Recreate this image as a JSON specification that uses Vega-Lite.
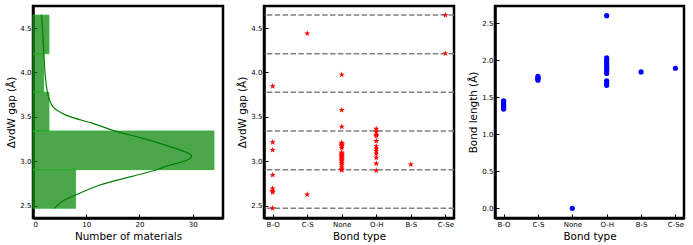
{
  "$schema": "https://vega.github.io/schema/vega-lite/v6.json",
  "background": "white",
  "padding": {"left": 5, "top": 4, "right": 5, "bottom": 3},
  "spacing": 41,
  "bounds": "flush",
  "config": {
    "font": "DejaVu Sans",
    "view": {"stroke": "black", "strokeWidth": 2.5},
    "axis": {
      "grid": false,
      "labelFont": "DejaVu Sans",
      "titleFont": "DejaVu Sans",
      "labelFontSize": 7,
      "titleFontSize": 10.4,
      "titleFontWeight": "normal",
      "labelColor": "black",
      "titleColor": "black",
      "tickColor": "black",
      "tickSize": -4,
      "tickWidth": 1,
      "labelPadding": 6,
      "domainColor": "black",
      "domainWidth": 2.5,
      "zindex": 1
    }
  },
  "datasets": {
    "hist": [
      {"lo": 2.471, "hi": 2.906, "count": 8},
      {"lo": 2.906, "hi": 3.341, "count": 34},
      {"lo": 3.341, "hi": 3.776, "count": 3},
      {"lo": 3.776, "hi": 4.211, "count": 2},
      {"lo": 4.211, "hi": 4.646, "count": 3}
    ],
    "curve": [
      {"gap": 4.65, "count": 1.6},
      {"gap": 4.38, "count": 1.9},
      {"gap": 4.0, "count": 2.25},
      {"gap": 3.78, "count": 2.7},
      {"gap": 3.69, "count": 3.1},
      {"gap": 3.61, "count": 3.8},
      {"gap": 3.52, "count": 6.2},
      {"gap": 3.43, "count": 11.1},
      {"gap": 3.34, "count": 15.5},
      {"gap": 3.26, "count": 20.5},
      {"gap": 3.16, "count": 26.0},
      {"gap": 3.09, "count": 29.2},
      {"gap": 3.06, "count": 29.8},
      {"gap": 3.02, "count": 29.2},
      {"gap": 2.94, "count": 24.8},
      {"gap": 2.91, "count": 23.6},
      {"gap": 2.83, "count": 18.6},
      {"gap": 2.73, "count": 12.4},
      {"gap": 2.62, "count": 8.0},
      {"gap": 2.55, "count": 5.5},
      {"gap": 2.47, "count": 4.0}
    ],
    "edges": [
      {"edge": 2.471}, {"edge": 2.906}, {"edge": 3.341}, {"edge": 3.776}, {"edge": 4.211}, {"edge": 4.646}
    ],
    "gaps": [
      {"bond": "B-O", "gap": 3.844}, {"bond": "B-O", "gap": 3.214}, {"bond": "B-O", "gap": 3.128}, {"bond": "B-O", "gap": 2.846},
      {"bond": "B-O", "gap": 2.693}, {"bond": "B-O", "gap": 2.665}, {"bond": "B-O", "gap": 2.651}, {"bond": "B-O", "gap": 2.471},
      {"bond": "C-S", "gap": 4.44}, {"bond": "C-S", "gap": 2.625},
      {"bond": "None", "gap": 3.975}, {"bond": "None", "gap": 3.578}, {"bond": "None", "gap": 3.39}, {"bond": "None", "gap": 3.21},
      {"bond": "None", "gap": 3.2}, {"bond": "None", "gap": 3.19}, {"bond": "None", "gap": 3.18}, {"bond": "None", "gap": 3.17},
      {"bond": "None", "gap": 3.15}, {"bond": "None", "gap": 3.1}, {"bond": "None", "gap": 3.09}, {"bond": "None", "gap": 3.08},
      {"bond": "None", "gap": 3.07}, {"bond": "None", "gap": 3.06}, {"bond": "None", "gap": 3.05}, {"bond": "None", "gap": 3.04},
      {"bond": "None", "gap": 3.03}, {"bond": "None", "gap": 3.02}, {"bond": "None", "gap": 3.01}, {"bond": "None", "gap": 3.0},
      {"bond": "None", "gap": 2.98}, {"bond": "None", "gap": 2.96}, {"bond": "None", "gap": 2.93}, {"bond": "None", "gap": 2.91},
      {"bond": "None", "gap": 2.9},
      {"bond": "O-H", "gap": 3.365}, {"bond": "O-H", "gap": 3.335}, {"bond": "O-H", "gap": 3.298}, {"bond": "O-H", "gap": 3.284},
      {"bond": "O-H", "gap": 3.228}, {"bond": "O-H", "gap": 3.17}, {"bond": "O-H", "gap": 3.14}, {"bond": "O-H", "gap": 3.116},
      {"bond": "O-H", "gap": 3.085}, {"bond": "O-H", "gap": 3.04}, {"bond": "O-H", "gap": 2.975}, {"bond": "O-H", "gap": 2.897},
      {"bond": "B-S", "gap": 2.964},
      {"bond": "C-Se", "gap": 4.646}, {"bond": "C-Se", "gap": 4.215}
    ],
    "lengths": [
      {"bond": "B-O", "length": 1.45}, {"bond": "B-O", "length": 1.44}, {"bond": "B-O", "length": 1.42}, {"bond": "B-O", "length": 1.4},
      {"bond": "B-O", "length": 1.38}, {"bond": "B-O", "length": 1.37}, {"bond": "B-O", "length": 1.35}, {"bond": "B-O", "length": 1.34},
      {"bond": "C-S", "length": 1.78}, {"bond": "C-S", "length": 1.76}, {"bond": "C-S", "length": 1.75}, {"bond": "C-S", "length": 1.73},
      {"bond": "None", "length": 0.0},
      {"bond": "O-H", "length": 2.6}, {"bond": "O-H", "length": 2.03}, {"bond": "O-H", "length": 2.0}, {"bond": "O-H", "length": 1.97},
      {"bond": "O-H", "length": 1.94}, {"bond": "O-H", "length": 1.91}, {"bond": "O-H", "length": 1.89}, {"bond": "O-H", "length": 1.86},
      {"bond": "O-H", "length": 1.82}, {"bond": "O-H", "length": 1.72}, {"bond": "O-H", "length": 1.69}, {"bond": "O-H", "length": 1.66},
      {"bond": "B-S", "length": 1.84},
      {"bond": "C-Se", "length": 1.89}
    ]
  },
  "hconcat": [
    {
      "width": 190,
      "height": 212,
      "layer": [
        {
          "data": {"name": "hist"},
          "mark": {"type": "rect", "fill": "green", "fillOpacity": 0.7, "stroke": "#2db02d", "strokeOpacity": 0.8, "strokeWidth": 1},
          "encoding": {
            "x": {"field": "count", "type": "quantitative",
                  "scale": {"domain": [0, 35.7], "nice": false, "zero": false},
                  "axis": {"title": "Number of materials", "values": [0, 5, 10, 15, 20, 25, 30, 35], "format": "d", "titlePadding": 4}},
            "x2": {"datum": 0},
            "y": {"field": "lo", "type": "quantitative",
                  "scale": {"domain": [2.3615, 4.7485], "nice": false, "zero": false},
                  "axis": {"title": "ΔvdW gap (Å)", "values": [2.5, 3.0, 3.5, 4.0, 4.5], "format": ".1f", "titlePadding": 3}},
            "y2": {"field": "hi"}
          }
        },
        {
          "data": {"name": "curve"},
          "mark": {"type": "line", "color": "green", "strokeWidth": 1.2, "interpolate": "catmull-rom", "clip": true},
          "encoding": {
            "x": {"field": "count", "type": "quantitative"},
            "y": {"field": "gap", "type": "quantitative"},
            "order": {"field": "gap"}
          }
        }
      ]
    },
    {
      "width": 190,
      "height": 212,
      "layer": [
        {
          "data": {"name": "edges"},
          "mark": {"type": "rule", "color": "gray", "strokeWidth": 1.5, "strokeDash": [5.5, 2.4]},
          "encoding": {
            "y": {"field": "edge", "type": "quantitative",
                  "scale": {"domain": [2.3615, 4.7485], "nice": false, "zero": false},
                  "axis": {"title": "ΔvdW gap (Å)", "values": [2.5, 3.0, 3.5, 4.0, 4.5], "format": ".1f", "titlePadding": 3}}
          }
        },
        {
          "data": {"name": "gaps"},
          "mark": {"type": "point", "shape": "M0,-1L0.2245,-0.309L0.9511,-0.309L0.3633,0.118L0.5878,0.809L0,0.382L-0.5878,0.809L-0.3633,0.118L-0.9511,-0.309L-0.2245,-0.309Z", "filled": true, "color": "red", "opacity": 1, "size": 42},
          "encoding": {
            "x": {"field": "bond", "type": "nominal",
                  "sort": ["B-O", "C-S", "None", "O-H", "B-S", "C-Se"],
                  "scale": {"type": "point", "padding": 0.25},
                  "axis": {"title": "Bond type", "labelAngle": 0, "titlePadding": 4}},
            "y": {"field": "gap", "type": "quantitative"}
          }
        }
      ]
    },
    {
      "width": 189,
      "height": 212,
      "data": {"name": "lengths"},
      "mark": {"type": "circle", "color": "blue", "opacity": 1, "size": 27},
      "encoding": {
        "x": {"field": "bond", "type": "nominal",
              "sort": ["B-O", "C-S", "None", "O-H", "B-S", "C-Se"],
              "scale": {"type": "point", "padding": 0.25},
              "axis": {"title": "Bond type", "labelAngle": 0, "titlePadding": 4}},
        "y": {"field": "length", "type": "quantitative",
              "scale": {"domain": [-0.13, 2.73], "nice": false, "zero": false},
              "axis": {"title": "Bond length (Å)", "values": [0, 0.5, 1.0, 1.5, 2.0, 2.5], "format": ".1f", "titlePadding": 3}}
      }
    }
  ]
}
